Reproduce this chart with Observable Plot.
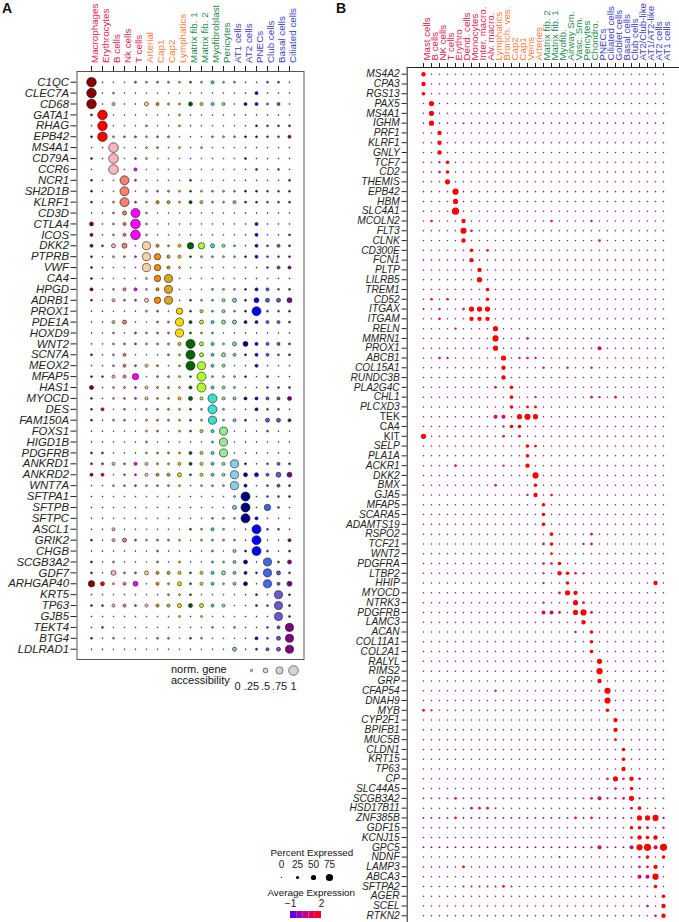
<!DOCTYPE html>
<html><head><meta charset="utf-8">
<script src="https://cdn.jsdelivr.net/npm/d3@7"></script>
<script src="https://cdn.jsdelivr.net/npm/@observablehq/plot@0.6"></script>
<style>
body{margin:0;background:#fff;font-family:"Liberation Sans",Arial,Helvetica,sans-serif;}
#root{position:relative;width:679px;height:922px;overflow:hidden;background:#fff;}
.lbl{position:absolute;white-space:nowrap;color:#111;}
</style></head><body><div id="root"></div>
<script>
// ---------- Panel A data ----------
const cellsA = ["Macrophages","Erythrocytes","B cells","Nk cells","T cells","Arterial","Cap1","Cap2","Lymphatics","Matrix fib. 1","Matrix fib. 2","Myofibroblast","Pericytes","AT1 cells","AT2 cells","PNECs","Club cells","Basal cells","Ciliated cells"];
const classA = ["imm","imm","imm","imm","imm","endo","endo","endo","endo","str","str","str","str","epi","epi","epi","epi","epi","epi"];
const dotColorsA = ["#8B0000","#FF0000","#FFB6C1","#FA8072","#FF00FF","#FDD3A6","#FF8C00","#DAA520","#FFD700","#006400","#ADFF2F","#40E0D0","#90EE90","#87CEEB","#000080","#0000FF","#4169E1","#6A5ACD","#800080"];
const genesA = ["C1QC","CLEC7A","CD68","GATA1","RHAG","EPB42","MS4A1","CD79A","CCR6","NCR1","SH2D1B","KLRF1","CD3D","CTLA4","ICOS","DKK2","PTPRB","VWF","CA4","HPGD","ADRB1","PROX1","PDE1A","HOXD9","WNT2","SCN7A","MEOX2","MFAP5","HAS1","MYOCD","DES","FAM150A","FOXS1","HIGD1B","PDGFRB","ANKRD1","ANKRD2","WNT7A","SFTPA1","SFTPB","SFTPC","ASCL1","GRIK2","CHGB","SCGB3A2","GDF7","ARHGAP40","KRT5","TP63","GJB5","TEKT4","BTG4","LDLRAD1"];
// one digit per cell type (size level), grouped immune | endothelial | stromal | epithelial
const valuesA = [
"91112 2222 2232 211221","91211 1111 1111 113111","91311 4322 4333 133231",
"29111 1112 1111 111111","19111 2112 1111 112222","29222 2221 1122 222223",
"11911 2212 1211 111111","21912 2111 1111 121111","10913 1111 1111 112121",
"21182 1111 2111 111112","21181 2222 2222 222222","21282 2332 3322 322222",
"11248 2111 1111 111111","41239 2111 1111 113111","31239 2111 1111 113112",
"32451 7323 6643 213232","21222 7633 2222 223222","21111 7632 1111 111233",
"21111 2671 1111 111111","31233 2371 1122 223322","21322 4671 2223 425445",
"11111 2216 2323 228222","11341 1227 3434 433332","11212 2227 2221 111111",
"11222 2223 8432 453332","21231 1122 8434 323322","11232 3212 8733 113111",
"22336 1222 2822 221211","41222 3222 3833 211222","21222 3223 4383 333334",
"23121 2222 2282 113221","21221 2222 2272 321443","11111 2212 2337 111211",
"11111 2111 1127 111111","22111 2222 3337 111111","22323 3223 3333 721232",
"33122 3334 2333 744355","11222 2222 1222 731232","11111 1111 1111 281222",
"11111 1111 1111 481621","11111 1111 1122 283111","11311 1111 2232 118221",
"21342 2222 1222 218113","11111 1211 1121 328212","21211 1212 1122 341724",
"21522 4333 2334 332742","64235 1324 2332 341735","11111 1122 2111 112172",
"22332 3334 4433 112272","11111 1112 1211 111172","12111 1111 1121 211237",
"21211 1221 2211 113247","11111 1111 1111 412347"];
const levelsA = [0, 0.1, 0.2, 0.32, 0.42, 0.52, 0.66, 0.84, 0.94, 1];
const legendA = [0, 0.25, 0.5, 0.75, 1];
const legendALabels = ["0", ".25", ".5", ".75", "1"];

// ---------- Panel B data ----------
const cellsB = ["Mast cells","B cells","NK cells","T cells","Erythro","Dend. cells","Monocytes","Inter. macro.","Alv. macro.","Lymphatics","Bronch. ves.","Cap2","Cap1","Veins","Arteries","Matrix fib. 2","Matrix fib. 1","Myofib.","Airway Sm.","Vasc. Sm.","Pericytes","Chondro.","PNECs","Ciliated cells","Goblet cells","Basal cells","Club cells","AT2/Club-like","AT1/AT2-like","AT2 cells","AT1 cells"];
const classB = ["imm","imm","imm","imm","imm","imm","imm","imm","imm","endo","endo","endo","endo","endo","endo","str","str","str","str","str","str","str","epi","epi","epi","epi","epi","epi","epi","epi","epi"];
const genesB = ["MS4A2","CPA3","RGS13","PAX5","MS4A1","IGHM","PRF1","KLRF1","GNLY","TCF7","CD2","THEMIS","EPB42","HBM","SLC4A1","MCOLN2","FLT3","CLNK","CD300E","FCN1","PLTP","LILRB5","TREM1","CD52","ITGAX","ITGAM","RELN","MMRN1","PROX1","ABCB1","COL15A1","RUNDC3B","PLA2G4C","CHL1","PLCXD3","TEK","CA4","KIT","SELP","PLA1A","ACKR1","DKK2","BMX","GJA5","MFAP5","SCARA5","ADAMTS19","RSPO2","TCF21","WNT2","PDGFRA","LTBP2","HHIP","MYOCD","NTRK3","PDGFRB","LAMC3","ACAN","COL11A1","COL2A1","RALYL","RIMS2","GRP","CFAP54","DNAH9","MYB","CYP2F1","BPIFB1","MUC5B","CLDN1","KRT15","TP63","CP","SLC44A5","SCGB3A2","HSD17B11","ZNF385B","GDF15","KCNJ15","GPC5","NDNF","LAMP3","ABCA3","SFTPA2","AGER","SCEL","RTKN2"];
const uprightB = ["TEK","CA4","KIT"];
// one code per cell type (10 | 10 | 10 | 1), meaning in codeKeys/codePct/codeExpr
const codesB = [
"3......... .......... .......... .","3......... .......... .......... .","2......... .......... .......... .",
".4........ .......... .......... .",".4........ .......... .......... .",".4...:.... .......... .......... .",
"..3....... .......... .......... .","..3....... .......... .......... .","..3....... .......... .......... .",
"..p2...... .......... .......... .","..m2...... .......... .......... .","...4...... .......... .......... .",
"....5..... .......... .......... .","....4..... .......... .......... .","....6..... .......... .......... .",
".m...3.... ......m... .p........ .",".....5m... .......... .......... .",".....3.... .......... ..m....... .",
"......2.m. .......... .......... .","......3... .......... .......... .",".......3.. .......... .......... .",
".......4.. .......... .......... .","........2. .......... .......... .",".m.m....2. .......... .......... .",
":.p..m444. .......... .......... .","..m...333. .......... .......... .","....p....4 .......... .......... .",
".........5 ...m...... .......... .",".........4 .......... ..M....... .","..mp...... 4.pmp..... .......... .",
".......... 3....p..p. .p........ .",".......... 3......... .......... .",".........m .2........ .......... .",
".......... .2..p..... .mp.m..... .",".......... .2.11..... .......... .",".........M M.454..... .......... .",
".......... p22....... .......... .","4......... m.m....... .......... .",".......... ...21..... .......... .",
".......... ...2...... .......... .","....m..... p..3...... .......... .",".......... ....5..... .......... .",
".........m ....2..... .......... .",".......... ...p3.m... .......... .",".......... .....2.... .......... .",
".......... .....2.... .......... .",".......... .....2.... .......... .",".......... ......2... .m........ .",
".......... .....m2... pm........ .",".......... ......1... .......... .",".......... .....mm2.. .......... .",
".......... .....p.32m p......... .",".......... .....p..2. .........3 .",".......... .......m43 .......... .",
".......... .....p...4 m......... .",".......... .....MMm.4 5m........ .",".......... .......... 3......... .",
".......... .........p .2........ .",".......... .......... .2........ .",".......... .......... .2........ .",
".......... .......... ..4....... .",".......... .......... ..5....... .",".......... .......... ..3....... .",
".........p .......... ...5...... .",".......... .......... ...5...... .","1p........ .......... ...2...... .",
".......... .......... ....3..... .",".......... .......... ....3..... .",".......... .......... ....1..... .",
".......... .......... .....2.... .",".......... .......... .....2.... .",".......... .......... .....3.... .",
".......... .......... ...m4m3m.. .",".......... .......... ....m.2... .","::::m::::: :::::::::: :mMppm4p:: :",
"......mmm: .......... ......m2.. .","::::m::::: :::::::::m :m:::::445 p",".......... .......... ......221. p",
".......... .......... ......m323 .",":::::::::: :::::::::: :pM:::M56M 6",".......... .......:.. .......p2. 2",
".....1.... .......... .......mm3 .",".......... .......... .......MM5 .",".....::::: m:........ .........2 .",
".......... .......... .......... 2",".......... .......... ........m. 3",".......... .......... .........m 3"];
const codeKeys = [".", ":", "p", "m", "M", "1", "2", "3", "4", "5", "6"];
const codePct  = [4, 9, 14, 18, 35, 20, 30, 40, 50, 62, 75];
const codeExpr = [-0.05, 0.15, 0.6, 1.3, 1.0, 2, 2, 2, 2, 2, 2];
const legendPct = [0, 25, 50, 75];
const legendExprStops = [-1, -0.4, 0.2, 0.8, 1.4, 2];
const legendExprTicks = [-1, 2];
const legendExprLabels = ["\u22121", "2"];

// ---------- style constants ----------
const FONT = '"Liberation Sans", Arial, Helvetica, sans-serif';
const classColor = {imm: "#DD2450", endo: "#FF7B3A", str: "#1B8A4C", epi: "#4242C2"};

// ---------- tables ----------
const rowsA = valuesA.map(s => s.replace(/ /g, ""));
rowsA.forEach((s, i) => { if (s.length !== cellsA.length) throw new Error("A row " + genesA[i] + " len " + s.length); });
if (rowsA.length !== genesA.length) throw new Error("A rows " + rowsA.length);
const dataA = genesA.flatMap((g, i) => cellsA.map((c, j) => ({gene: g, cell: c, v: levelsA[+rowsA[i][j]]})));

const rowsB = codesB.map(s => s.replace(/ /g, ""));
rowsB.forEach((s, i) => { if (s.length !== cellsB.length) throw new Error("B row " + genesB[i] + " len " + s.length); });
if (rowsB.length !== genesB.length) throw new Error("B rows " + rowsB.length);
const dataB = genesB.flatMap((g, i) => cellsB.map((c, j) => {
  const k = codeKeys.indexOf(rowsB[i][j]);
  return {gene: g, cell: c, pct: codePct[k], expr: codeExpr[k]};
}));

const root = document.getElementById("root");
function mount(node, left, top) {
  node.style.position = "absolute"; node.style.left = left + "px"; node.style.top = top + "px";
  root.appendChild(node);
}
function html(text, left, top, size, extra) {
  const d = document.createElement("div");
  d.className = "lbl"; d.innerHTML = text;
  d.style.left = left + "px"; d.style.top = top + "px"; d.style.fontSize = size + "px";
  d.style.lineHeight = (size * 1.05) + "px";
  if (extra) Object.assign(d.style, extra);
  root.appendChild(d);
}
const baseStyle = {background: "transparent", fontFamily: FONT, overflow: "visible", color: "#222"};

// ---------- Panel A ----------
const A_W = 335, A_H = 700;
const colLabelsA = ["imm", "endo", "str", "epi"].map(k =>
  Plot.text(cellsA.filter((c, j) => classA[j] === k), {x: d => d, text: d => d, frameAnchor: "top", rotate: -90,
    textAnchor: "start", dy: -8.5, fill: classColor[k], fontSize: 9.8}));
const plotA = Plot.plot({
  width: A_W, height: A_H,
  marginLeft: 76.5, marginRight: A_W - 303.5, marginTop: 71, marginBottom: A_H - 659,
  style: baseStyle,
  x: {type: "point", domain: cellsA, range: [87.7, 292.3], padding: 0, axis: "top", tickSize: 6, tickFormat: () => "", label: null},
  y: {type: "point", domain: genesA, range: [81.7, 648.7], padding: 0, axis: "left", tickSize: 6, tickFormat: () => "", label: null},
  r: {type: "linear", domain: [0, 1], range: [0, 4.8]},
  color: {type: "ordinal", domain: cellsA, range: dotColorsA},
  marks: [
    Plot.frame({stroke: "#555"}),
    Plot.dot(dataA, {x: "cell", y: "gene", r: "v", fill: "cell", stroke: "#111", strokeWidth: 0.6}),
    Plot.text(genesA, {y: d => d, text: d => d, frameAnchor: "left", dx: -8, textAnchor: "end", fontStyle: "italic", fontSize: 11.4, fill: "#222"}),
    ...colLabelsA
  ]
});
mount(plotA, 0, 0);

// legend A
const legA = Plot.plot({
  width: 80, height: 28, margin: 0, style: baseStyle,
  x: {type: "point", domain: legendA, range: [11, 69], padding: 0, axis: null},
  r: {type: "linear", domain: [0, 1], range: [0, 4.8]},
  marks: [
    Plot.dot(legendA, {x: d => d, r: d => d, fill: "#d4d4d4", stroke: "#444", strokeWidth: 0.7, frameAnchor: "top", dy: 8}),
    Plot.text(legendA, {x: d => d, text: (d, i) => legendALabels[i], frameAnchor: "bottom", lineAnchor: "bottom", dy: -1, fontSize: 11, fill: "#222"})
  ]
});
mount(legA, 225, 662);
html("norm. gene<br>accessibility", 171, 663.5, 11, {lineHeight: "11.4px"});

// ---------- Panel B ----------
const B_L = 335, B_W = 344;
const colLabelsB = ["imm", "endo", "str", "epi"].map(k =>
  Plot.text(cellsB.filter((c, j) => classB[j] === k), {x: d => d, text: d => d, frameAnchor: "top", rotate: -90,
    textAnchor: "start", dy: -7, fill: classColor[k], fontSize: 9.7}));
const plotB = Plot.plot({
  width: B_W, height: 922,
  marginLeft: 406.7 - B_L, marginRight: 0, marginTop: 67, marginBottom: 0,
  style: baseStyle,
  x: {type: "point", domain: cellsB, range: [413.5 - B_L, 673.3 - B_L], padding: 0, axis: "top", tickSize: 5, tickFormat: () => "", label: null, line: true},
  y: {type: "point", domain: genesB, range: [73.7, 915.3], padding: 0, axis: "left", tickSize: 5, tickFormat: () => "", label: null, line: true},
  r: {type: "linear", domain: [0, 100], range: [0.6, 4.6]},
  color: {type: "linear", domain: [-1, 2], range: ["#0000ff", "#ff0000"], interpolate: "lab"},
  marks: [
    Plot.dot(dataB, {x: "cell", y: "gene", r: "pct", fill: "expr"}),
    Plot.text(genesB.filter(g => !uprightB.includes(g)), {y: d => d, text: d => d, frameAnchor: "left", dx: -7.5, textAnchor: "end", fontStyle: "italic", fontSize: 10.2, fill: "#222"}),
    Plot.text(genesB.filter(g => uprightB.includes(g)), {y: d => d, text: d => d, frameAnchor: "left", dx: -7.5, textAnchor: "end", fontSize: 10.2, fill: "#222"}),
    ...colLabelsB
  ]
});
mount(plotB, B_L, 0);

// legend B: percent expressed
html("Percent Expressed", 270.5, 847.5, 9.8);
const legPct = Plot.plot({
  width: 80, height: 22, margin: 0, style: baseStyle,
  x: {type: "point", domain: legendPct, range: [280.7 - 265, 328.7 - 265], padding: 0, axis: null},
  r: {type: "linear", domain: [0, 100], range: [0.6, 4.6]},
  marks: [
    Plot.text(legendPct, {x: d => d, text: d => String(d), frameAnchor: "top", lineAnchor: "top", fontSize: 10, fill: "#222"}),
    Plot.dot(legendPct, {x: d => d, r: d => d, fill: "#000", frameAnchor: "bottom", dy: -5})
  ]
});
mount(legPct, 265, 859.5);

// legend B: average expression
html("Average Expression", 267.5, 887.5, 9.8);
const legExpr = Plot.plot({
  width: 70, height: 19, margin: 0, style: baseStyle,
  x: {type: "linear", domain: [-1, 2], range: [20, 51], axis: null},
  color: {type: "linear", domain: [-1, 2], range: ["#0000ff", "#ff0000"], interpolate: "lab"},
  marks: [
    Plot.rect(d3.pairs(legendExprStops), {x1: d => d[0], x2: d => d[1], fill: d => (d[0] + d[1]) / 2, insetTop: 12}),
    Plot.text(legendExprTicks, {x: d => d, text: (d, i) => legendExprLabels[i], frameAnchor: "top", lineAnchor: "top", fontSize: 10, fill: "#222"})
  ]
});
mount(legExpr, 270, 899);

// panel letters
html("A", 2, 1, 14, {fontWeight: "bold", lineHeight: "14px"});
html("B", 336, 1, 14, {fontWeight: "bold", lineHeight: "14px"});
</script>
</body></html>
